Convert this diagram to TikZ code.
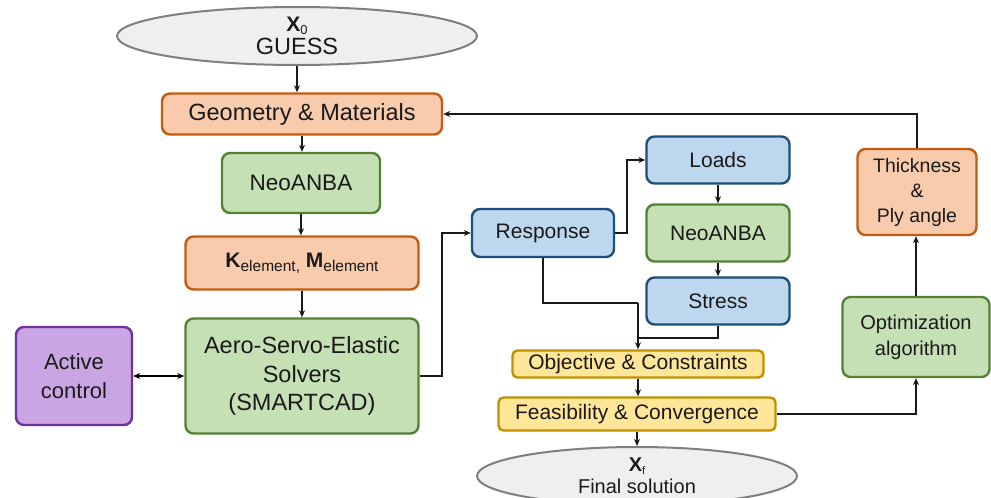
\documentclass[tikz,border=0pt]{standalone}
\usepackage{fontspec}
\setmainfont{Liberation Sans}
\usetikzlibrary{shapes.geometric,arrows.meta,calc}
\definecolor{ofill}{HTML}{F8CBAD}
\definecolor{odraw}{HTML}{C55A11}
\definecolor{gfill}{HTML}{C5E0B4}
\definecolor{gdraw}{HTML}{548235}
\definecolor{bfill}{HTML}{BDD7EE}
\definecolor{bdraw}{HTML}{1F4E79}
\definecolor{yfill}{HTML}{FFE699}
\definecolor{ydraw}{HTML}{BF9000}
\definecolor{pfill}{HTML}{C9A5E3}
\definecolor{pdraw}{HTML}{7030A0}
\definecolor{efill}{HTML}{EFEFEF}
\definecolor{edraw}{HTML}{7F7F7F}
\definecolor{txt}{HTML}{1A1A1A}
\tikzset{
  box/.style={rounded corners=8pt, line width=2.4pt, align=center, text=txt,
    inner sep=0pt, font=\fontsize{21}{28.5}\selectfont},
  obox/.style={box, fill=ofill, draw=odraw},
  gbox/.style={box, fill=gfill, draw=gdraw},
  bbox/.style={box, fill=bfill, draw=bdraw},
  ybox/.style={box, fill=yfill, draw=ydraw, rounded corners=5pt},
  pbox/.style={box, fill=pfill, draw=pdraw},
  oval/.style={ellipse, fill=efill, draw=edraw, line width=2pt, align=center,
    text=txt, inner sep=0pt, font=\fontsize{21}{27}\selectfont},
  arr/.style={line width=1.8pt, draw=black!90, -{Stealth[length=7pt,width=6pt]}},
  ln/.style={line width=1.8pt, draw=black!90},
}
\begin{document}
\begin{tikzpicture}[x=1pt,y=-1pt]
\useasboundingbox (0,0) rectangle (991,498);
\begin{scope}
\clip (0,0) rectangle (991,498);
% left column
\node[oval, minimum width=360pt, minimum height=58pt] (guess) at (297,36)
  {\textbf{X}\raisebox{-3pt}{\fontsize{13}{13}\selectfont 0}\\[-4pt]{\fontsize{23.5}{23.5}\selectfont GUESS}};
\node[obox, minimum width=280pt, minimum height=41pt, font=\fontsize{23.5}{28}\selectfont] (geo) at (302,114) {Geometry \& Materials};
\node[gbox, minimum width=158pt, minimum height=60pt, font=\fontsize{22.5}{28}\selectfont] (neo1) at (301,183) {NeoANBA};
\node[obox, minimum width=233pt, minimum height=53pt] (kel) at (302,263)
  {\textbf{K}\raisebox{-4pt}{\fontsize{15.5}{15.5}\selectfont element,} \textbf{M}\raisebox{-4pt}{\fontsize{15.5}{15.5}\selectfont element}};
\node[gbox, minimum width=233pt, minimum height=115pt, font=\fontsize{23.5}{28.5}\selectfont] (ase) at (302,376)
  {Aero-Servo-Elastic\\Solvers\\(SMARTCAD)};
\node[pbox, minimum width=116pt, minimum height=98pt, font=\fontsize{22}{28.5}\selectfont] (ac) at (74,376) {Active\\control};
% middle column
\node[bbox, minimum width=142pt, minimum height=48pt] (resp) at (543,233) {Response};
\node[bbox, minimum width=143pt, minimum height=47pt] (loads) at (718,160) {Loads};
\node[gbox, minimum width=143pt, minimum height=57pt] (neo2) at (718,233) {NeoANBA};
\node[bbox, minimum width=143pt, minimum height=47pt] (stress) at (718,301) {Stress};
\node[ybox, minimum width=251pt, minimum height=27pt] (obj) at (638,364) {Objective \& Constraints};
\node[ybox, minimum width=277pt, minimum height=33pt] (feas) at (637,414) {Feasibility \& Convergence};
\node[oval, minimum width=320pt, minimum height=58pt, font=\fontsize{20}{24}\selectfont] (final) at (637,476)
  {\textbf{X}\raisebox{-3pt}{\fontsize{11}{11}\selectfont f}\\[-2pt]Final solution};
% right column
\node[obox, minimum width=119pt, minimum height=86pt, font=\fontsize{19.5}{25}\selectfont] (thick) at (917,192) {Thickness\\\&\\Ply angle};
\node[gbox, minimum width=147pt, minimum height=80pt, font=\fontsize{20}{26}\selectfont] (opt) at (916,337) {Optimization\\algorithm};
% connectors
\draw[arr] (guess.south) -- (guess.south |- geo.north);
\draw[arr] (geo.south) -- (geo.south |- neo1.north);
\draw[arr] (neo1.south) -- (neo1.south |- kel.north);
\draw[arr] (kel.south) -- (kel.south |- ase.north);
\draw[line width=1.8pt, {Stealth[length=7pt,width=6pt]}-{Stealth[length=7pt,width=6pt]}] (ac.east) -- (ase.west);
\draw[arr] (ase.east) -- ++(22,0) |- (resp.west);
\draw[arr] (resp.east) -- ++(12,0) |- (loads.west);
\draw[arr] (loads.south) -- (neo2.north);
\draw[arr] (neo2.south) -- (stress.north);
\coordinate (m1) at (638,303);
\coordinate (m2) at (638,338);
\draw[ln] (resp.south) |- (m1);
\draw[ln] (stress.south) |- (m2);
\draw[arr] (m1) -- (obj.north);
\draw[arr] (obj.south) -- (obj.south |- feas.north);
\draw[arr] (feas.south) -- (feas.south |- final.north);
\draw[arr] (feas.east) -| (opt.south);
\draw[arr] (opt.north) -- (opt.north |- thick.south);
\draw[arr] (thick.north) |- (geo.east);
\end{scope}
\end{tikzpicture}
\end{document}
